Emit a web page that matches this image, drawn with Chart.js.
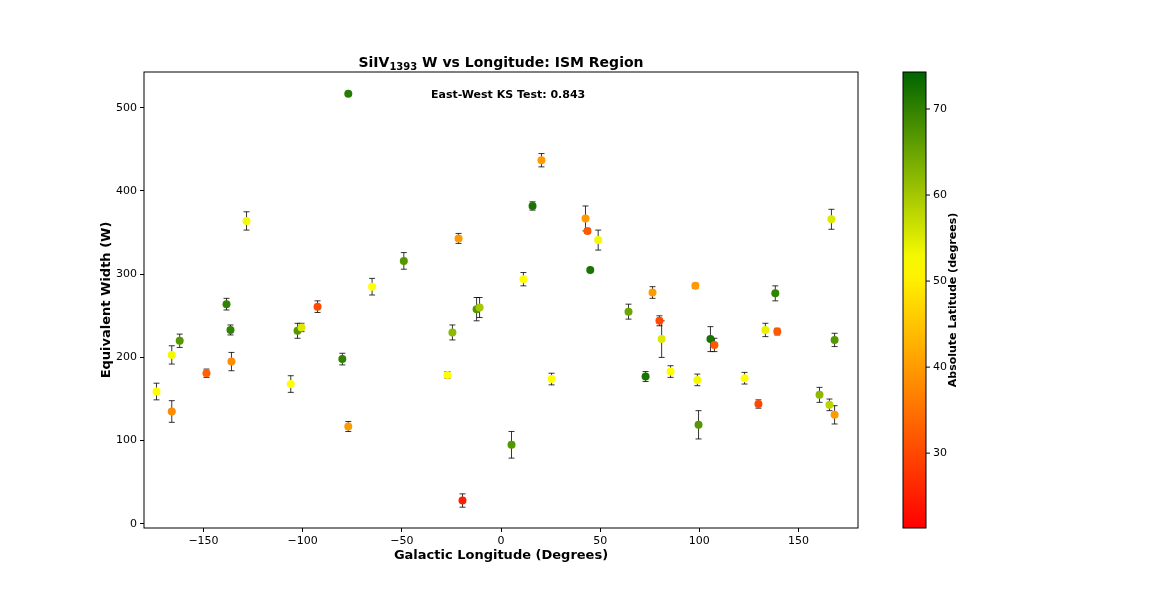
<!DOCTYPE html>
<html>
<head>
<meta charset="utf-8">
<script src="https://cdn.jsdelivr.net/npm/chart.js@4"></script>
<style>
  body { margin: 0; background: #fff; }
  #wrap { width: 1152px; height: 604px; }
</style>
</head>
<body>
<div id="wrap"><canvas id="ismChart" width="1152" height="604"></canvas></div>
<script>
// Data
const longitude = [-173.7, -166, -166, -162, -148.5, -138.4, -136.4, -135.9, -128.3, -106, -102.6, -100.6, -92.5, -80, -77, -77, -65, -49, -27, -24.5, -21.4, -19.4, -12.3, -10.8, 5.3, 11.3, 15.9, 20.4, 25.5, 42.6, 43.6, 45, 49, 64.3, 72.9, 76.4, 79.9, 81, 85.5, 98, 99, 99.6, 105.6, 107.6, 122.8, 129.8, 133.3, 138.3, 139.3, 160.6, 165.6, 166.6, 168.2, 168.2];
const width = [159, 135, 203, 220, 181, 264, 233, 195, 364, 168, 232, 236, 261, 198, 517, 117, 285, 316, 179, 230, 343, 28, 258, 260, 95, 294, 382, 437, 174, 367, 352, 305, 341, 255, 177, 278, 244, 222, 183, 286, 173, 119, 222, 215, 175, 144, 233, 277, 231, 155, 143, 366, 131, 221];
const widthErr = [10, 13, 11, 8, 5, 7, 6, 11, 11, 10, 9, 5, 7, 7, 2, 6, 10, 10, 4, 9, 6, 8, 14, 12, 16, 8, 5, 8, 7, 15, 3, 2, 12, 9, 6, 7, 6, 22, 7, 3, 7, 17, 15, 8, 7, 5, 8, 9, 4, 9, 7, 12, 11, 8];
const absLatitude = [52, 38, 53, 67, 33, 70, 70, 38, 53, 52, 67, 55, 30, 70, 71, 40, 52, 67, 52, 62, 40, 25, 67, 60, 67, 52, 72, 40, 52, 40, 32, 72, 53, 65, 72, 40, 30, 55, 52, 40, 53, 67, 72, 32, 52, 30, 54, 70, 32, 62, 58, 55, 40, 67];
const xTicks = [-150, -100, -50, 0, 50, 100, 150];
const yTicks = [0, 100, 200, 300, 400, 500];
const cbarTicks = [30, 40, 50, 60, 70];
const latMin = 21.3, latMax = 74.3;

// red -> yellow -> dark green
function latColor(v) {
  let t = (v - latMin) / (latMax - latMin);
  t = Math.max(0, Math.min(1, t));
  let r, g, b;
  if (t < 0.58) {
    const u = t / 0.58;
    r = 255; g = Math.round(255 * u); b = 0;
  } else {
    const u = (t - 0.58) / 0.42;
    r = Math.round(255 * (1 - u)); g = Math.round(255 - 155 * u); b = 0;
  }
  return `rgb(${r},${g},${b})`;
}

const points = longitude.map((x, i) => ({ x: x, y: width[i], err: widthErr[i] }));
const font = "'DejaVu Sans', sans-serif";

const extrasPlugin = {
  id: "extras",
  beforeDatasetsDraw(chart) {
    const { ctx, scales } = chart;
    ctx.save();
    ctx.strokeStyle = "#000";
    ctx.lineWidth = 0.8;
    points.forEach(p => {
      const px = scales.x.getPixelForValue(p.x);
      const top = scales.y.getPixelForValue(p.y + p.err);
      const bot = scales.y.getPixelForValue(p.y - p.err);
      ctx.beginPath();
      ctx.moveTo(px, top); ctx.lineTo(px, bot);
      ctx.moveTo(px - 3, top); ctx.lineTo(px + 3, top);
      ctx.moveTo(px - 3, bot); ctx.lineTo(px + 3, bot);
      ctx.stroke();
    });
    ctx.restore();
  },
  afterDraw(chart) {
    const { ctx, chartArea: a } = chart;
    ctx.save();
    // frame
    ctx.strokeStyle = "#000";
    ctx.lineWidth = 1;
    ctx.strokeRect(a.left, a.top, a.right - a.left, a.bottom - a.top);

    // title with subscript
    ctx.fillStyle = "#000";
    ctx.textBaseline = "alphabetic";
    const p1 = "SiIV", sub = "1393", p2 = " W vs Longitude: ISM Region";
    ctx.font = "bold 14px " + font;
    const w1 = ctx.measureText(p1).width, w3 = ctx.measureText(p2).width;
    ctx.font = "bold 10px " + font;
    const w2 = ctx.measureText(sub).width;
    let x0 = (a.left + a.right) / 2 - (w1 + w2 + w3) / 2;
    const yb = 67;
    ctx.font = "bold 14px " + font;
    ctx.fillText(p1, x0, yb);
    ctx.font = "bold 10px " + font;
    ctx.fillText(sub, x0 + w1, yb + 3);
    ctx.font = "bold 14px " + font;
    ctx.fillText(p2, x0 + w1 + w2, yb);

    // KS annotation
    ctx.font = "bold 11px " + font;
    ctx.fillText("East-West KS Test: 0.843", 431, 98);

    // axis titles
    ctx.font = "bold 13px " + font;
    ctx.textAlign = "center";
    ctx.textBaseline = "middle";
    ctx.fillText("Galactic Longitude (Degrees)", (a.left + a.right) / 2, 556);
    ctx.save();
    ctx.translate(107, (a.top + a.bottom) / 2);
    ctx.rotate(-Math.PI / 2);
    ctx.fillText("Equivalent Width (W)", 0, 0);
    ctx.restore();

    // colorbar
    const cx = 903, cw = 23, ct = a.top, cb = a.bottom;
    const grad = ctx.createLinearGradient(0, cb, 0, ct);
    for (let i = 0; i <= 20; i++) {
      grad.addColorStop(i / 20, latColor(latMin + (latMax - latMin) * i / 20));
    }
    ctx.fillStyle = grad;
    ctx.fillRect(cx, ct, cw, cb - ct);
    ctx.strokeRect(cx, ct, cw, cb - ct);
    ctx.fillStyle = "#000";
    ctx.font = "11px " + font;
    ctx.textAlign = "left";
    cbarTicks.forEach(v => {
      const py = cb - (v - latMin) / (latMax - latMin) * (cb - ct);
      ctx.beginPath(); ctx.moveTo(cx + cw, py); ctx.lineTo(cx + cw + 4, py); ctx.stroke();
      ctx.fillText(String(v), cx + cw + 7, py);
    });
    ctx.translate(953, (ct + cb) / 2);
    ctx.rotate(-Math.PI / 2);
    ctx.textAlign = "center";
    ctx.font = "bold 11px " + font;
    ctx.fillText("Absolute Latitude (degrees)", 0, 0);
    ctx.restore();
  }
};

new Chart(document.getElementById("ismChart").getContext("2d"), {
  type: "scatter",
  data: {
    datasets: [{
      data: points,
      pointRadius: 4,
      pointHoverRadius: 4,
      borderWidth: 0,
      backgroundColor: absLatitude.map(latColor)
    }]
  },
  options: {
    responsive: false,
    animation: false,
    devicePixelRatio: 1,
    layout: { padding: { left: 0, right: 294, top: 72, bottom: 0 } },
    plugins: { legend: { display: false }, tooltip: { enabled: false } },
    scales: {
      x: {
        type: "linear", min: -180, max: 180,
        afterBuildTicks: s => { s.ticks = xTicks.map(v => ({ value: v })); },
        afterFit: s => { s.height = 76; },
        grid: { display: true, drawOnChartArea: false, tickLength: 4, color: "#000" },
        border: { display: false },
        ticks: { color: "#000", font: { family: font, size: 11 }, maxRotation: 0,
                 callback: v => String(v).replace("-", "\u2212") }
      },
      y: {
        type: "linear", min: -5, max: 543,
        afterBuildTicks: s => { s.ticks = yTicks.map(v => ({ value: v })); },
        afterFit: s => { s.width = 144; },
        grid: { display: true, drawOnChartArea: false, tickLength: 4, color: "#000" },
        border: { display: false },
        ticks: { color: "#000", font: { family: font, size: 11 } }
      }
    }
  },
  plugins: [extrasPlugin]
});
</script>
</body>
</html>
